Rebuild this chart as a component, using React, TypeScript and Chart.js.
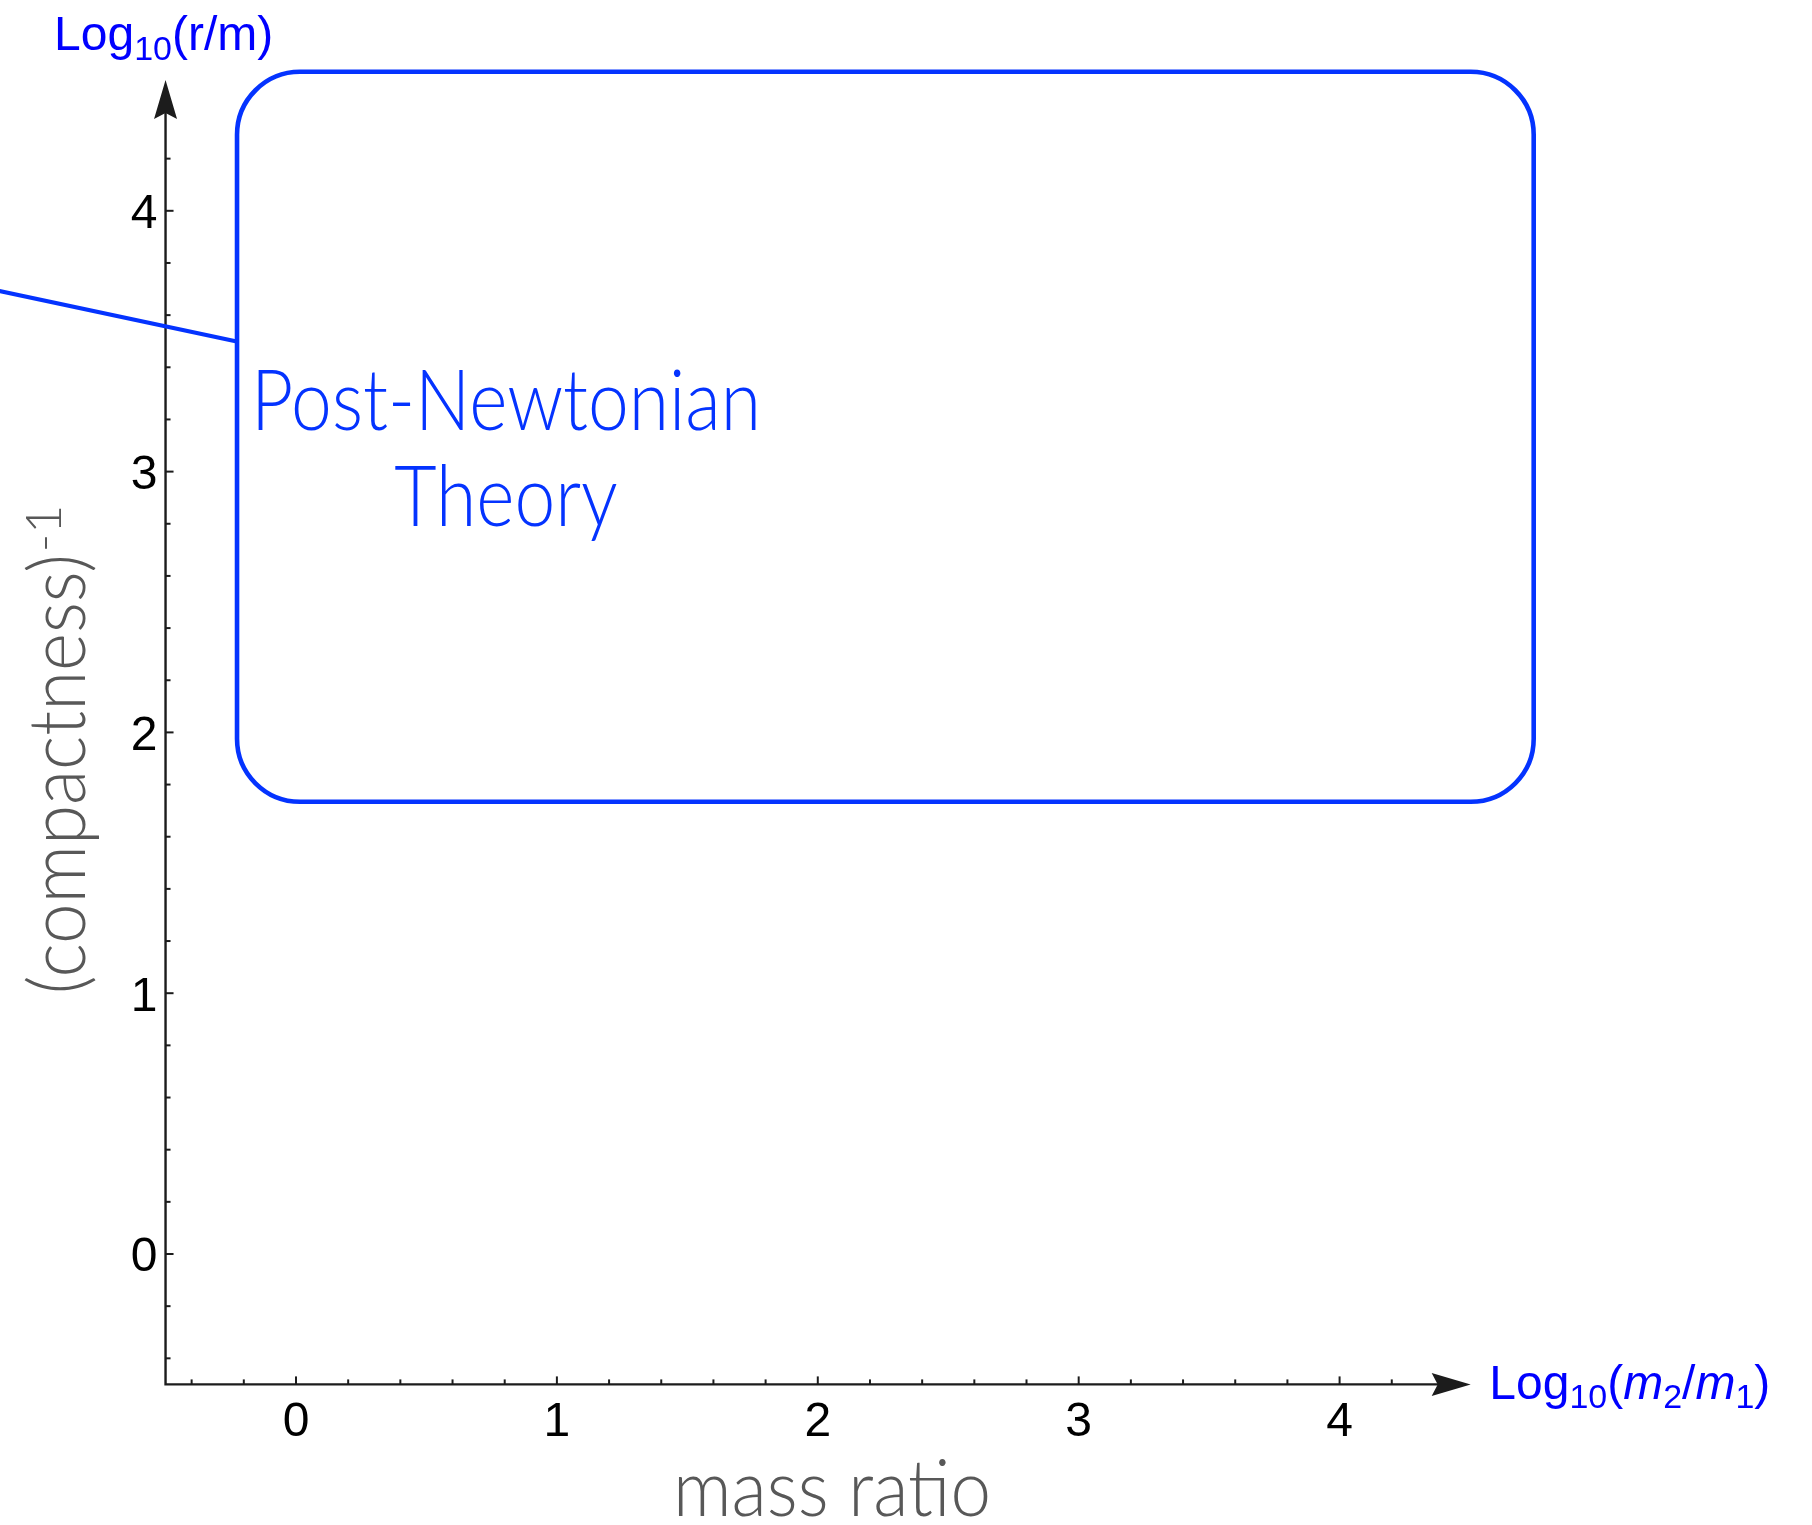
import React, { useEffect, useRef } from 'react';
import { Chart, registerables } from 'chart.js';

Chart.register(...registerables);

// ---------- data ----------
// visible scale window (data units at canvas edges)
const xRange = [-1.1345, 5.8107];
const yRange = [-1.0391, 4.8083];

// axes: origin where they cross, arrow tips
const axisOrigin = [-0.5, -0.5];
const axisTips = [4.5025, 4.5015];

const xMajorTicks = [0, 1, 2, 3, 4];
const yMajorTicks = [0, 1, 2, 3, 4];
const xTickLabels = ['0', '1', '2', '3', '4'];
const yTickLabels = ['0', '1', '2', '3', '4'];
const minorStep = 0.2;

// blue line coming in from the left, ending at the region box
const pnLineX = [-1.3, -0.227];
const pnLineY = [3.727, 3.499];

// Post-Newtonian region box (rounded rectangle)
const pnBoxX = [-0.226, 4.744];
const pnBoxY = [1.734, 4.533];

const regionLabel = ['Post-Newtonian', 'Theory'];
const regionLabelX = 0.805;
const regionLabelY = [3.16, 2.79];

const xAxisTitle = 'mass ratio';
const yAxisTitle = '(compactness)';
const yAxisTitleSup = '-1';

// ---------- styles ----------
const AXIS_COLOR = '#1c1c1c';
const BOX_COLOR = '#0433ff';
const LABEL_BLUE = '#0000ff';
const TITLE_GRAY = '#585858';
const SANS = '"Liberation Sans", Arial, Helvetica, sans-serif';
const HUMANIST = 'Lato, "Open Sans", sans-serif';

type Part = { t: string; s: number; dy?: number; it?: boolean };

function drawParts(ctx: CanvasRenderingContext2D, parts: Part[], x: number, y: number, color: string) {
  ctx.save();
  ctx.fillStyle = color;
  ctx.textAlign = 'left';
  ctx.textBaseline = 'alphabetic';
  let cx = x;
  for (const p of parts) {
    ctx.font = `${p.it ? 'italic ' : ''}${p.s}px ${SANS}`;
    ctx.fillText(p.t, cx, y + (p.dy || 0));
    cx += ctx.measureText(p.t).width;
  }
  ctx.restore();
}

function fitText(
  ctx: CanvasRenderingContext2D,
  text: string,
  x: number,
  y: number,
  font: string,
  targetW: number,
  align: CanvasTextAlign
) {
  ctx.font = font;
  const w = ctx.measureText(text).width;
  const sx = targetW / w;
  ctx.save();
  ctx.translate(x, y);
  ctx.scale(sx, 1);
  ctx.textAlign = align;
  ctx.textBaseline = 'alphabetic';
  ctx.fillText(text, 0, 0);
  ctx.restore();
  return sx;
}

function tickValues(from: number, to: number, step: number) {
  const out: number[] = [];
  const k0 = Math.ceil(from / step + 1e-6);
  const k1 = Math.floor(to / step - 1e-6);
  for (let k = k0; k <= k1; k++) out.push(Math.round(k * step * 1000) / 1000);
  return out;
}

const customDraw = {
  id: 'customDraw',
  beforeDatasetsDraw(chart: any) {
    const ctx: CanvasRenderingContext2D = chart.ctx;
    const xs = chart.scales.x;
    const ys = chart.scales.y;
    const px = (v: number) => xs.getPixelForValue(v);
    const py = (v: number) => ys.getPixelForValue(v);
    const ox = px(axisOrigin[0]);
    const oy = py(axisOrigin[1]);
    const tx = px(axisTips[0]);
    const ty = py(axisTips[1]);

    ctx.save();
    ctx.strokeStyle = AXIS_COLOR;
    ctx.fillStyle = AXIS_COLOR;
    ctx.lineWidth = 2.4;
    ctx.lineJoin = 'miter';
    ctx.beginPath();
    ctx.moveTo(ox, ty + 20);
    ctx.lineTo(ox, oy);
    ctx.lineTo(tx - 20, oy);
    ctx.stroke();

    // ticks (inward)
    ctx.lineWidth = 2;
    tickValues(axisOrigin[0], axisTips[0], minorStep).forEach((v) => {
      const major = Math.abs(v - Math.round(v)) < 1e-6;
      const len = major ? 8 : 5;
      const x = px(v);
      ctx.beginPath();
      ctx.moveTo(x, oy);
      ctx.lineTo(x, oy - len);
      ctx.stroke();
    });
    tickValues(axisOrigin[1], axisTips[1], minorStep).forEach((v) => {
      const major = Math.abs(v - Math.round(v)) < 1e-6;
      const len = major ? 8 : 5;
      const y = py(v);
      ctx.beginPath();
      ctx.moveTo(ox, y);
      ctx.lineTo(ox + len, y);
      ctx.stroke();
    });

    // arrowheads
    const aL = 39, aW = 11.5, notch = 6;
    ctx.beginPath();
    ctx.moveTo(tx, oy);
    ctx.lineTo(tx - aL, oy - aW);
    ctx.lineTo(tx - aL + notch, oy);
    ctx.lineTo(tx - aL, oy + aW);
    ctx.closePath();
    ctx.fill();
    ctx.beginPath();
    ctx.moveTo(ox, ty);
    ctx.lineTo(ox - aW, ty + aL);
    ctx.lineTo(ox, ty + aL - notch);
    ctx.lineTo(ox + aW, ty + aL);
    ctx.closePath();
    ctx.fill();

    // tick labels
    ctx.fillStyle = '#000';
    ctx.font = `48px ${SANS}`;
    ctx.textBaseline = 'alphabetic';
    ctx.textAlign = 'center';
    xMajorTicks.forEach((v, i) => {
      ctx.fillText(xTickLabels[i], px(v), oy + 52);
    });
    ctx.textAlign = 'right';
    yMajorTicks.forEach((v, i) => {
      ctx.fillText(yTickLabels[i], ox - 8, py(v) + 17.4);
    });

    // blue axis labels
    drawParts(
      ctx,
      [
        { t: 'Log', s: 48 },
        { t: '10', s: 34, dy: 10 },
        { t: '(r/m)', s: 48 },
      ],
      ox - 111.5,
      ty - 30,
      LABEL_BLUE
    );
    drawParts(
      ctx,
      [
        { t: 'Log', s: 48 },
        { t: '10', s: 34, dy: 9 },
        { t: '(', s: 48 },
        { t: 'm', s: 48, it: true },
        { t: '2', s: 34, dy: 9 },
        { t: '/', s: 48 },
        { t: 'm', s: 48, it: true },
        { t: '1', s: 34, dy: 9 },
        { t: ')', s: 48 },
      ],
      tx + 18.6,
      oy + 14.3,
      LABEL_BLUE
    );

    // gray axis titles
    ctx.fillStyle = TITLE_GRAY;
    fitText(ctx, xAxisTitle, px(2.0544), py(-1.0046), `300 79px ${HUMANIST}`, 318, 'center');

    ctx.save();
    ctx.translate(px(-0.8087), py(1.84));
    ctx.rotate(-Math.PI / 2);
    const mainW = 440;
    fitText(ctx, yAxisTitle, 0, 0, `300 79px ${HUMANIST}`, mainW, 'center');
    ctx.font = `300 50px ${HUMANIST}`;
    ctx.textAlign = 'left';
    ctx.fillText(yAxisTitleSup, mainW / 2 + 2, -24);
    ctx.restore();

    ctx.restore();
  },
  afterDatasetsDraw(chart: any) {
    const ctx: CanvasRenderingContext2D = chart.ctx;
    const xs = chart.scales.x;
    const ys = chart.scales.y;
    const px = (v: number) => xs.getPixelForValue(v);
    const py = (v: number) => ys.getPixelForValue(v);

    // rounded region box
    const l = px(pnBoxX[0]);
    const r = px(pnBoxX[1]);
    const t = py(pnBoxY[1]);
    const b = py(pnBoxY[0]);
    const rad = 63;
    ctx.save();
    ctx.strokeStyle = BOX_COLOR;
    ctx.lineWidth = 4.6;
    ctx.beginPath();
    ctx.moveTo(l + rad, t);
    ctx.lineTo(r - rad, t);
    ctx.arcTo(r, t, r, t + rad, rad);
    ctx.lineTo(r, b - rad);
    ctx.arcTo(r, b, r - rad, b, rad);
    ctx.lineTo(l + rad, b);
    ctx.arcTo(l, b, l, b - rad, rad);
    ctx.lineTo(l, t + rad);
    ctx.arcTo(l, t, l + rad, t, rad);
    ctx.closePath();
    ctx.stroke();

    // region label
    ctx.fillStyle = BOX_COLOR;
    const cx = px(regionLabelX);
    ctx.font = `300 84px ${HUMANIST}`;
    const w0 = ctx.measureText(regionLabel[0]).width;
    const sx = 510 / w0;
    regionLabel.forEach((txt, i) => {
      ctx.save();
      ctx.translate(cx, py(regionLabelY[i]));
      ctx.scale(sx, 1);
      ctx.textAlign = 'center';
      ctx.textBaseline = 'alphabetic';
      ctx.fillText(txt, 0, 0);
      ctx.restore();
    });
    ctx.restore();
  },
};

export default function App() {
  const canvasRef = useRef<HTMLCanvasElement | null>(null);

  useEffect(() => {
    if (!canvasRef.current) return;
    const chart = new Chart(canvasRef.current, {
      type: 'scatter',
      data: {
        datasets: [
          {
            label: 'PN',
            data: pnLineX.map((x, i) => ({ x, y: pnLineY[i] })),
            showLine: true,
            borderColor: BOX_COLOR,
            borderWidth: 4.2,
            pointRadius: 0,
            fill: false,
          },
        ],
      },
      options: {
        responsive: false,
        maintainAspectRatio: false,
        devicePixelRatio: 1,
        animation: false,
        layout: { padding: 0 },
        plugins: {
          legend: { display: false },
          tooltip: { enabled: false },
        },
        events: [],
        scales: {
          x: { type: 'linear', min: xRange[0], max: xRange[1], display: false },
          y: { type: 'linear', min: yRange[0], max: yRange[1], display: false },
        },
      },
      plugins: [customDraw],
    });
    return () => chart.destroy();
  }, []);

  return (
    <div style={{ position: 'absolute', left: 0, top: 0, width: 1812, height: 1525, background: '#fff' }}>
      <canvas ref={canvasRef} width={1812} height={1525} style={{ display: 'block' }} />
    </div>
  );
}
